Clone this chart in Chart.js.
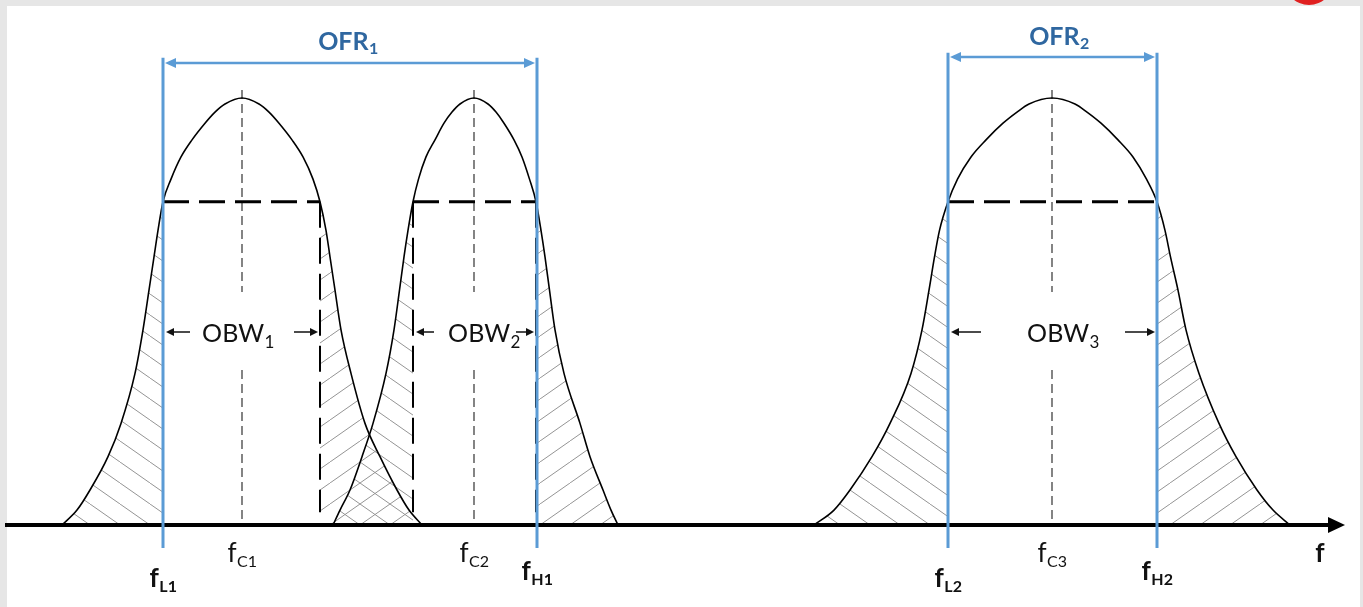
<!DOCTYPE html>
<html>
<head>
<meta charset="utf-8">
<script src="https://cdn.jsdelivr.net/npm/chart.js@4"></script>
<style>
html, body { margin: 0; padding: 0; background: #e6e6e6; overflow: hidden; }
#sheet { position: absolute; left: 7px; top: 6px; width: 1353px; height: 601px; background: #fff; }
#badge { position: absolute; left: 1284px; top: -46px; width: 50px; height: 51px; border-radius: 50%; background: #e02020; }
#wrap { position: absolute; left: 0; top: 0; width: 1363px; height: 607px; }
</style>
</head>
<body>
<div id="sheet"></div>
<div id="badge"></div>
<div id="wrap"><canvas id="chart" width="1363" height="607"></canvas></div>
<script>
// relative amplitude of every spectrum (peak = 1)
const levels = [0, 0.035, 0.082, 0.16, 0.238, 0.355, 0.457, 0.55, 0.628, 0.69, 0.757, 0.81, 0.862, 0.902, 0.941, 0.967, 0.986, 1,
                0.986, 0.967, 0.941, 0.902, 0.862, 0.81, 0.757, 0.69, 0.628, 0.55, 0.457, 0.355, 0.238, 0.16, 0.082, 0.035, 0]
// frequency of each level point, one list per emission
const curve1X = [62, 77, 90, 108, 121, 135, 143, 149, 154, 158, 163, 171, 181, 192, 205, 215, 225, 242,
                 259, 269, 279, 292, 303, 313, 320, 326, 330, 335, 341, 351, 365, 380, 397, 409, 422]
const curve2X = [333, 340, 350, 362, 373, 386, 394, 399.5, 404, 408, 413, 418.5, 426, 435, 444, 452, 460, 474,
                 488, 496, 504, 514, 522, 529.5, 536, 541, 545, 549.5, 555, 564, 580, 590, 603, 611, 618]
const curve3X = [814, 834, 850, 872, 890, 911, 922, 929, 934.5, 939.5, 948, 957.5, 971, 986, 1003, 1017, 1029, 1052,
                 1075, 1087, 1101, 1118, 1133, 1146.5, 1157, 1165, 1170.5, 1178, 1186, 1199, 1219, 1236, 1257, 1273, 1290]

const centers = [242, 474, 1052]
const obwLow = [163, 413, 948]
const obwHigh = [320, 536, 1157]
const obwLevel = 0.757
const obwSubs = ['1', '2', '3']

const ofrLow = [163, 948]
const ofrHigh = [537, 1157]
const ofrSubs = ['1', '2']

const freqMarks = [163, 242, 474, 537, 948, 1052, 1157, 1320]
const freqSubs = ['L1', 'C1', 'C2', 'H1', 'L2', 'C3', 'H2', '']

const axisStart = 5
const axisEnd = 1345

const blue = '#5b9bd5'
const ofrText = '#2f67a0'
const FONT = 'Lato, "Open Sans", sans-serif'

function pts(xs, ys) {
    return xs.map((x, i) => ({ x, y: ys[i] }))
}

function hatch(down) {
    const c = document.createElement('canvas')
    c.width = 30
    c.height = 21
    const g = c.getContext('2d')
    g.strokeStyle = '#949494'
    g.lineWidth = 1
    g.beginPath()
    if (down) { g.moveTo(0, 0); g.lineTo(30, 21) }
    else { g.moveTo(0, 21); g.lineTo(30, 0) }
    g.stroke()
    return g.createPattern(c, 'repeat')
}

const hatchLeft = hatch(true)
const hatchRight = hatch(false)

const datasets = []
const line = (data, extra) => Object.assign({
    data, borderColor: '#000', borderWidth: 1, pointRadius: 0, tension: 0, fill: false
}, extra)

const curves = [curve1X, curve2X, curve3X]
curves.forEach((xs, k) => {
    const p = pts(xs, levels)
    // hatched tails outside the occupied bandwidth
    datasets.push(line(p.filter(q => q.x <= obwLow[k]), {
        borderWidth: 0, fill: 'origin', backgroundColor: hatchLeft, cubicInterpolationMode: 'monotone', order: 30
    }))
    datasets.push(line(p.filter(q => q.x >= obwHigh[k]), {
        borderWidth: 0, fill: 'origin', backgroundColor: hatchRight, cubicInterpolationMode: 'monotone', order: 30
    }))
    // centre frequency marker
    datasets.push(line([{ x: centers[k], y: 1.019 }, { x: centers[k], y: 0 }], {
        borderColor: '#333', borderWidth: 1.2, borderDash: [9, 5], order: 25
    }))
    // spectrum
    datasets.push(line(p, { borderWidth: 1.6, cubicInterpolationMode: 'monotone', order: 20 }))
    // OBW edges
    datasets.push(line([{ x: obwLow[k], y: obwLevel }, { x: obwLow[k], y: 0.03 }], {
        borderWidth: 2, borderDash: [26, 10], order: 15
    }))
    datasets.push(line([{ x: obwHigh[k], y: obwLevel }, { x: obwHigh[k], y: 0.03 }], {
        borderWidth: 2, borderDash: [26, 10], order: 15
    }))
    datasets.push(line([{ x: obwLow[k], y: obwLevel }, { x: obwHigh[k], y: obwLevel }], {
        borderWidth: 3, borderDash: [26, 10], order: 14
    }))
})

// frequency axis
datasets.push(line([{ x: axisStart, y: 0 }, { x: axisEnd - 10, y: 0 }], { borderWidth: 4, order: 10 }))

// OFR limits
const ofrTop = [1.094, 1.106]
const ofrArrow = [1.082, 1.096]
ofrLow.forEach((lo, k) => {
    const hi = ofrHigh[k]
    datasets.push(line([{ x: lo, y: ofrTop[k] }, { x: lo, y: -0.054 }], { borderColor: blue, borderWidth: 3, order: 5 }))
    datasets.push(line([{ x: hi, y: ofrTop[k] }, { x: hi, y: -0.054 }], { borderColor: blue, borderWidth: 3, order: 5 }))
    datasets.push(line([{ x: lo + 6, y: ofrArrow[k] }, { x: hi - 6, y: ofrArrow[k] }], { borderColor: blue, borderWidth: 2.5, order: 5 }))
})

function head(ctx, tx, ty, dir, len, half, color) {
    ctx.fillStyle = color
    ctx.beginPath()
    ctx.moveTo(tx, ty)
    ctx.lineTo(tx - dir * len, ty - half)
    ctx.lineTo(tx - dir * len, ty + half)
    ctx.closePath()
    ctx.fill()
}

function subText(ctx, cx, base, main, sub, font, subFont, drop, color) {
    ctx.font = font
    const w1 = ctx.measureText(main).width
    ctx.font = subFont
    const w2 = ctx.measureText(sub).width
    const left = cx - (w1 + w2) / 2
    ctx.fillStyle = color
    ctx.textAlign = 'left'
    ctx.textBaseline = 'alphabetic'
    ctx.font = font
    ctx.fillText(main, left, base)
    ctx.font = subFont
    ctx.fillText(sub, left + w1 + 0.5, base + drop)
    return w1 + w2
}

const annotations = {
    id: 'annotations',
    afterDatasetsDraw(chart) {
        const { ctx, scales: { x, y } } = chart
        const y0 = y.getPixelForValue(0)
        ctx.save()

        // axis arrow
        head(ctx, x.getPixelForValue(axisEnd), y0, 1, 17, 8, '#000')

        // OFR arrows and titles
        const ofrCenter = [348, 1059]
        const ofrBase = [50, 45]
        ofrLow.forEach((lo, k) => {
            const ay = y.getPixelForValue(ofrArrow[k])
            head(ctx, x.getPixelForValue(lo) + 2, ay, -1, 11, 5, blue)
            head(ctx, x.getPixelForValue(ofrHigh[k]) - 2, ay, 1, 11, 5, blue)
            subText(ctx, ofrCenter[k], ofrBase[k], 'OFR', ofrSubs[k],
                'bold 25px ' + FONT, 'bold 16px ' + FONT, 4, ofrText)
        })

        // OBW labels with their arrows
        const obwCenter = [238, 484, 1063]
        const arrowLen = [24, 18, 30]
        const ay = 332
        obwLow.forEach((lo, k) => {
            ctx.font = '25px ' + FONT
            const w = ctx.measureText('OBW').width + 10
            ctx.fillStyle = '#fff'
            ctx.fillRect(obwCenter[k] - w / 2 - 4, 292, w + 8, 76)
            subText(ctx, obwCenter[k], 342, 'OBW', obwSubs[k], '25px ' + FONT, '17px ' + FONT, 6, '#111')
            const l = x.getPixelForValue(lo) + 3
            const r = x.getPixelForValue(obwHigh[k]) - 2
            ctx.strokeStyle = '#111'
            ctx.lineWidth = 1.5
            ctx.beginPath()
            ctx.moveTo(l + 4, ay); ctx.lineTo(l + arrowLen[k], ay)
            ctx.moveTo(r - 4, ay); ctx.lineTo(r - arrowLen[k], ay)
            ctx.stroke()
            head(ctx, l, ay, -1, 8, 4, '#111')
            head(ctx, r, ay, 1, 8, 4, '#111')
        })

        // frequency labels under the axis
        freqMarks.forEach((f, k) => {
            const s = freqSubs[k]
            const edge = s.startsWith('L') || s.startsWith('H') || s === ''
            const drop = s.startsWith('L') ? 62 : s.startsWith('H') ? 55 : 37
            const weight = edge ? 'bold ' : ''
            subText(ctx, x.getPixelForValue(f), y0 + drop, 'f', s,
                weight + '26px ' + FONT, weight + '16px ' + FONT, 5, '#111')
        })
        ctx.restore()
    }
}

new Chart(document.getElementById('chart'), {
    type: 'line',
    data: { datasets },
    options: {
        responsive: false,
        animation: false,
        events: [],
        layout: { padding: 0 },
        plugins: { legend: { display: false }, tooltip: { enabled: false } },
        scales: {
            x: { type: 'linear', min: 0, max: 1363, display: false },
            y: { type: 'linear', min: -0.192, max: 1.2295, display: false }
        }
    },
    plugins: [annotations]
})
</script>
</body>
</html>
